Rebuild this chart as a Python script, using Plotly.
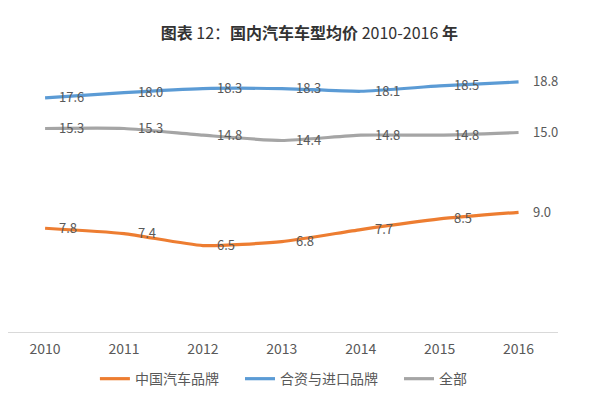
import plotly.graph_objects as go

years = ["2010", "2011", "2012", "2013", "2014", "2015", "2016"]
domestic = [7.8, 7.4, 6.5, 6.8, 7.7, 8.5, 9.0]
joint_import = [17.6, 18.0, 18.3, 18.3, 18.1, 18.5, 18.8]
overall = [15.3, 15.3, 14.8, 14.4, 14.8, 14.8, 15.0]

series = [
    ("中国汽车品牌", domestic, "#ED7D31", "legend", 0.158),
    ("合资与进口品牌", joint_import, "#5B9BD5", "legend2", 0.4218),
    ("全部", overall, "#A5A5A5", "legend3", 0.7109),
]

font_family = "Noto Sans CJK SC, Noto Sans, sans-serif"
label_color = "#595959"

fig = go.Figure()
annotations = []
legends = {}
for name, vals, color, leg, legx in series:
    fig.add_trace(go.Scatter(
        x=years, y=vals, name=name, legend=leg,
        mode="lines",
        line=dict(color=color, width=3.2, shape="spline", smoothing=0.55),
    ))
    # data labels placed to the right of each point (Excel "right" position)
    for i, v in enumerate(vals):
        annotations.append(dict(
            x=i, y=v, xref="x", yref="y",
            text=f"{v:.1f}", showarrow=False,
            xanchor="left", yanchor="middle", xshift=12, yshift=1,
            font=dict(size=13, color=label_color, family=font_family),
        ))
    legends[leg] = dict(
        orientation="h", x=legx, xanchor="left", y=-0.177, yanchor="middle",
        font=dict(size=14, color=label_color, family=font_family),
        itemwidth=30, bgcolor="rgba(0,0,0,0)",
    )

# page body has an 8px margin, so the figure is sized/offset to compensate
fig.update_layout(
    width=592, height=407,
    margin=dict(l=0, r=42, t=58, b=83),
    paper_bgcolor="white", plot_bgcolor="white",
    title=dict(
        text="<b>图表</b> 12：<b>国内汽车车型均价</b> 2010-2016 <b>年</b>",
        x=0.509, xanchor="center", y=0.9386, yanchor="middle",
        font=dict(size=16, color="#333333", family=font_family),
    ),
    xaxis=dict(
        type="category", range=[-0.47, 6.5],
        showgrid=False, showline=True, linecolor="#D9D9D9", linewidth=1,
        ticks="", ticklabelstandoff=4,
        tickfont=dict(size=14, color=label_color, family=font_family),
        zeroline=False,
    ),
    yaxis=dict(
        range=[0, 20], visible=False, showgrid=False, zeroline=False,
    ),
    annotations=annotations,
    showlegend=True,
    **legends,
)

fig.write_html("out.html")
